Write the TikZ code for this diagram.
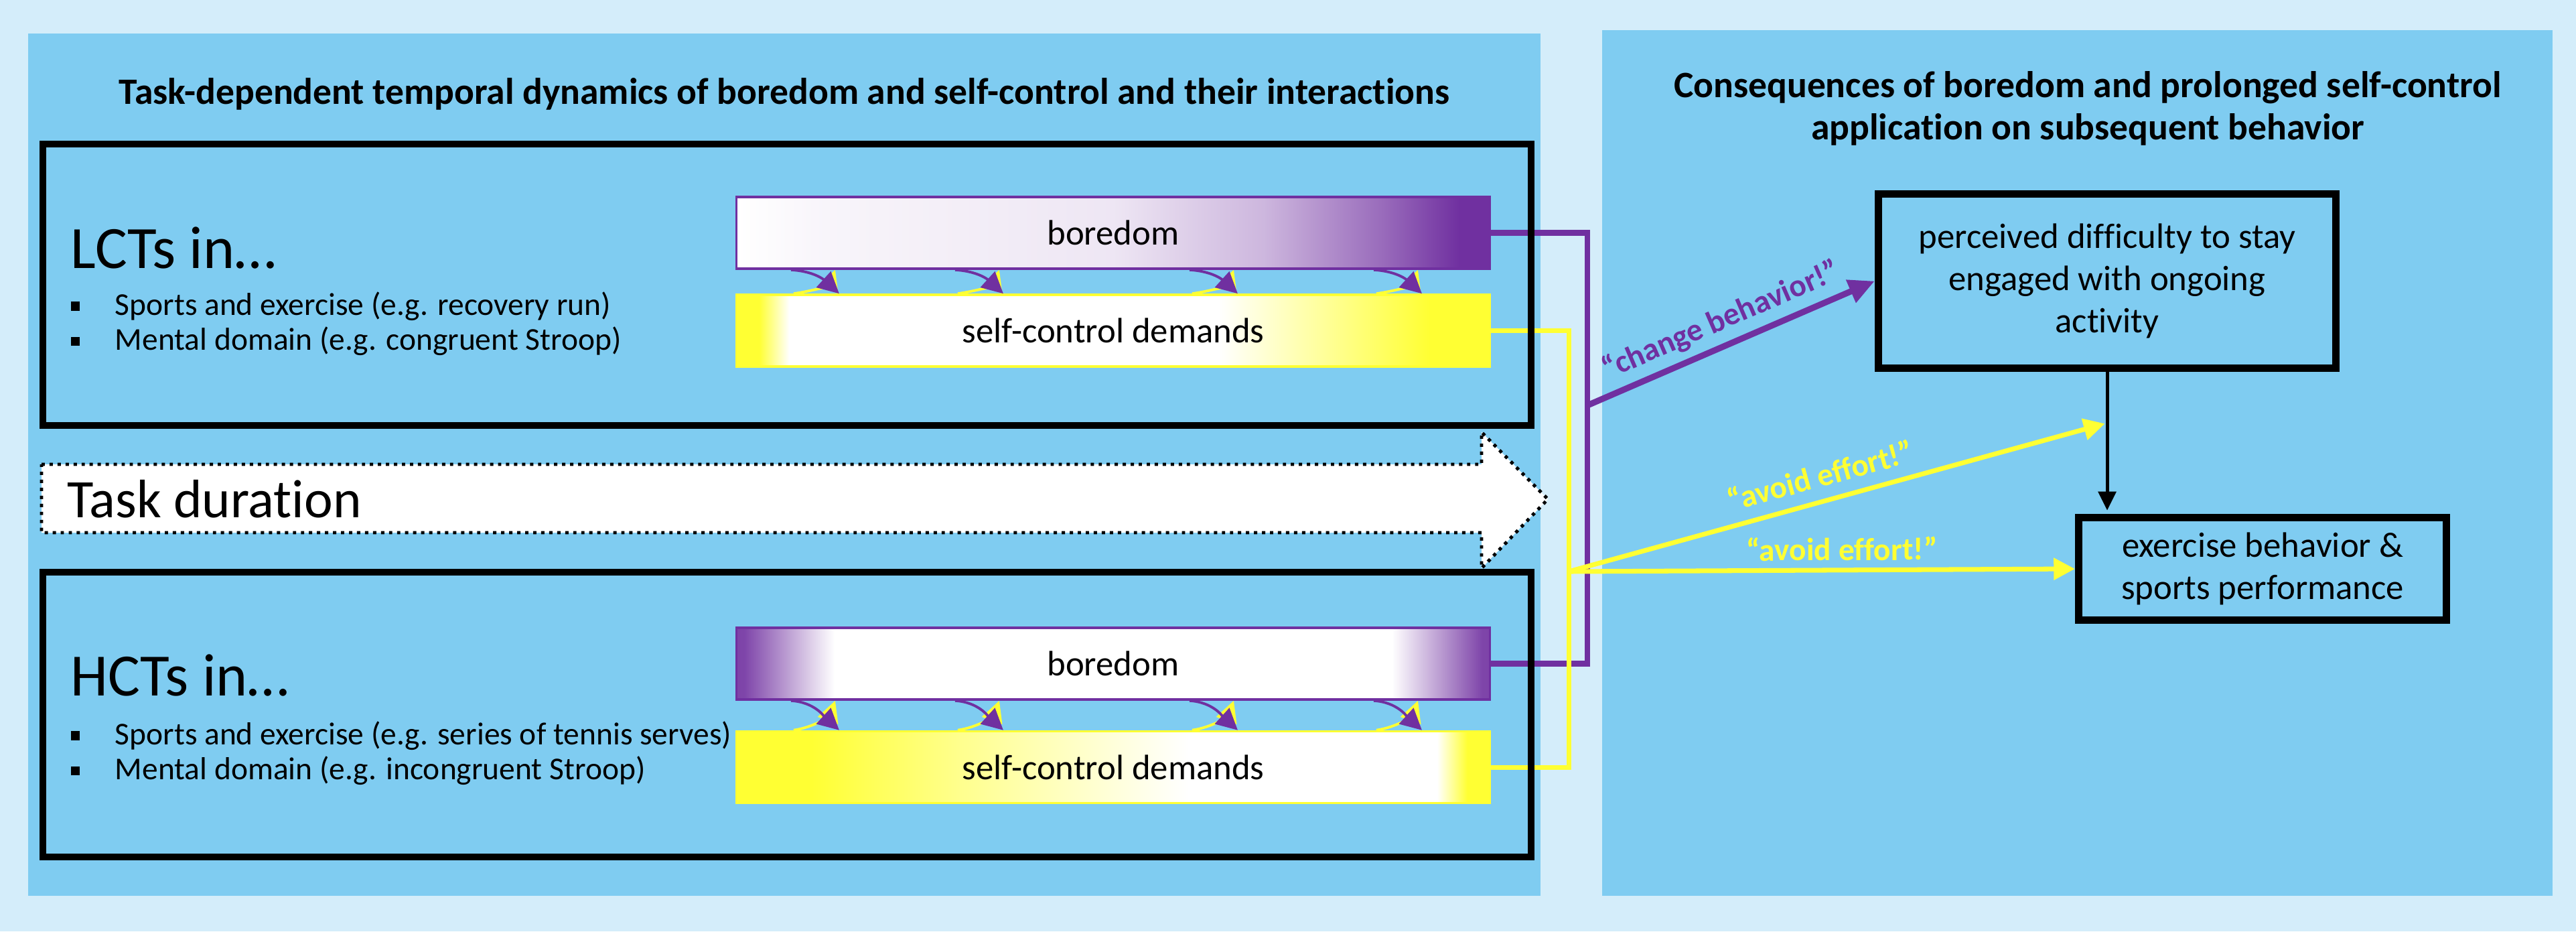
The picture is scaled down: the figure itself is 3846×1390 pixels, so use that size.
\documentclass[tikz,border=0pt]{standalone}
\usepackage{fontspec}
\setmainfont{Carlito}[Ligatures=NoCommon]
\usetikzlibrary{arrows.meta,calc}

\definecolor{boredpurple}{RGB}{112,48,160}
\definecolor{selfyellow}{RGB}{255,255,51}
\definecolor{panelblue}{RGB}{127,204,241}
\definecolor{paleblue}{RGB}{212,237,250}

% gradients of the four bars (the bar is mapped onto 25bp--75bp)
\pgfdeclarehorizontalshading{lctbore}{100bp}{color(0bp)=(white); color(25bp)=(white); color(31bp)=(boredpurple!5); color(50bp)=(boredpurple!12); color(60bp)=(boredpurple!35); color(68bp)=(boredpurple!72); color(73bp)=(boredpurple); color(100bp)=(boredpurple)}
\pgfdeclarehorizontalshading{lctself}{100bp}{color(0bp)=(selfyellow); color(26.5bp)=(selfyellow); color(28.5bp)=(white); color(57bp)=(white); color(71bp)=(selfyellow); color(100bp)=(selfyellow)}
\pgfdeclarehorizontalshading{hctbore}{100bp}{color(0bp)=(boredpurple); color(25.5bp)=(boredpurple!90); color(31.5bp)=(white); color(68.5bp)=(white); color(74.5bp)=(boredpurple!90); color(100bp)=(boredpurple)}
\pgfdeclarehorizontalshading{hctself}{100bp}{color(0bp)=(selfyellow); color(30bp)=(selfyellow); color(40bp)=(selfyellow!55); color(55bp)=(white); color(71.5bp)=(white); color(73.5bp)=(selfyellow); color(100bp)=(selfyellow)}

\newcommand{\listsq}{\rule[1.8pt]{3.8pt}{3.8pt}}

\tikzset{
  panel/.style={fill=panelblue},
  headline/.style={font=\bfseries\fontsize{15.8}{18}\selectfont, align=center, inner sep=0pt},
  taskbox/.style={draw=black, line width=2.9pt, minimum width=22.2cm},
  tasklabel/.style={anchor=base west, inner sep=0pt, font=\fontsize{25.5}{30}\selectfont},
  tasklist/.style={anchor=base west, inner sep=0pt, font=\fontsize{13.5}{15}\selectfont},
  bar/.style={minimum width=11.24cm, minimum height=1.07cm, line width=1pt, inner sep=0pt,
    font=\fontsize{15}{18}\selectfont},
  tinyp/.style={boredpurple, line width=1.1pt, -{Triangle[length=9pt,width=9pt]}},
  tinyy/.style={selfyellow, line width=1.1pt, -{Triangle[length=9pt,width=9pt]}},
  pline/.style={boredpurple, line width=2.3pt},
  yline/.style={selfyellow, line width=2pt},
  parrow/.style={boredpurple, line width=2.6pt, -{Triangle[length=11pt,width=10pt]}},
  yarrow/.style={selfyellow, line width=2pt, -{Triangle[length=9pt,width=9pt]}},
  karrow/.style={black, line width=1.4pt, -{Triangle[length=8pt,width=7.5pt]}, shorten >=1.5pt},
  resbox/.style={draw=black, line width=3.1pt, align=center, inner sep=0pt,
    font=\fontsize{15}{18}\selectfont},
  cue/.style={font=\bfseries\fontsize{13.5}{16}\selectfont, sloped, above, inner sep=3pt},
}

\begin{document}
\begin{tikzpicture}[x=0.01cm, y=-0.01cm]
\useasboundingbox (0,0) rectangle (3846,1390);
\fill[paleblue] (0,0) rectangle (3846,1390);

% the two panels
\fill[panel] (42,50) rectangle (2300,1337);
\fill[panel] (2392,45) rectangle (3811,1337);

\node[headline] (ltitle) at (1171,140) {Task-dependent temporal dynamics of boredom and self-control and their interactions};
\node[headline] (rtitle) at (3117,162) {Consequences of boredom and prolonged self-control\\application on subsequent behavior};

% task duration arrow
\draw[fill=white, line width=1.4pt, dash pattern=on 1.4pt off 2pt]
  (62,693) -- (2212,693) -- (2212,645) -- (2311,745) -- (2212,848) -- (2212,795) -- (62,795) -- cycle;
\node[anchor=base west, inner sep=0pt, font=\fontsize{23}{28}\selectfont] (dur) at (100,772) {Task duration};

% LCTs and HCTs
\node[tasklabel] (lhead) at (105,400) {LCTs in…};
\node[tasklist] (llist) at (105,470) {\begin{tabular}[t]{@{}l@{\hspace{15pt}}l@{}}
  \listsq & Sports and exercise (e.g. recovery run)\\
  \listsq & Mental domain (e.g. congruent Stroop)
\end{tabular}};
\node[tasklabel] (hhead) at (105,1038) {HCTs in…};
\node[tasklist] (hlist) at (105,1111) {\begin{tabular}[t]{@{}l@{\hspace{15pt}}l@{}}
  \listsq & Sports and exercise (e.g. series of tennis serves)\\
  \listsq & Mental domain (e.g. incongruent Stroop)
\end{tabular}};

\node[bar, shading=lctbore, draw=boredpurple] (lbore) at (1662,347.5) {boredom};
\node[bar, shading=lctself, draw=selfyellow] (lself) at (1662,493.5) {self-control demands};
\node[bar, shading=hctbore, draw=boredpurple] (hbore) at (1662,990.5) {boredom};
\node[bar, shading=hctself, draw=selfyellow] (hself) at (1662,1145) {self-control demands};

% interactions between the bars
\foreach \bor/\sel in {lbore/lself, hbore/hself}
  \foreach \dx in {145,390,740,1015} {
    \draw[tinyy] ($(\sel.north west)+(\dx-58,0)$) .. controls +(30,-4) and +(-8,22) .. ($(\bor.south west)+(\dx+4,0)$);
    \draw[tinyp] ($(\bor.south west)+(\dx-62,0)$) .. controls +(35,2) and +(-22,-20) .. ($(\sel.north west)+(\dx+10,0)$);
  }

\coordinate (pj) at (2370,605);
\coordinate (yj) at (2342,853);
\draw[pline] (lbore.east) -| (pj) |- (hbore.east);
\draw[yline] (lself.east) -| (yj) |- (hself.east);

\node[taskbox, minimum height=4.2cm] (lct) at (1175,425) {};
\node[taskbox, minimum height=4.25cm] (hct) at (1175,1066.5) {};

% consequences
\node[resbox, minimum width=6.83cm, minimum height=2.6cm] (diff) at (3146,419.5) {perceived difficulty to stay\\engaged with ongoing\\activity};
\node[resbox, minimum width=5.49cm, minimum height=1.53cm] (exer) at (3378,849) {exercise behavior \&\\sports performance};

\draw[karrow] (diff.south) -- (diff.south |- exer.north);
\coordinate (mod) at ($(diff.south)!0.36!(diff.south |- exer.north)$);

\draw[parrow] (pj) -- node[cue, pos=0.5, text=boredpurple] {“change behavior!”} (diff.west);
\draw[yarrow, shorten >=1pt] (yj) -- node[cue, pos=0.48, text=selfyellow, inner sep=5pt] {“avoid effort!”} (mod);
\draw[yarrow] (yj) -- node[cue, pos=0.54, text=selfyellow] {“avoid effort!”} (exer.west);
\end{tikzpicture}
\end{document}
